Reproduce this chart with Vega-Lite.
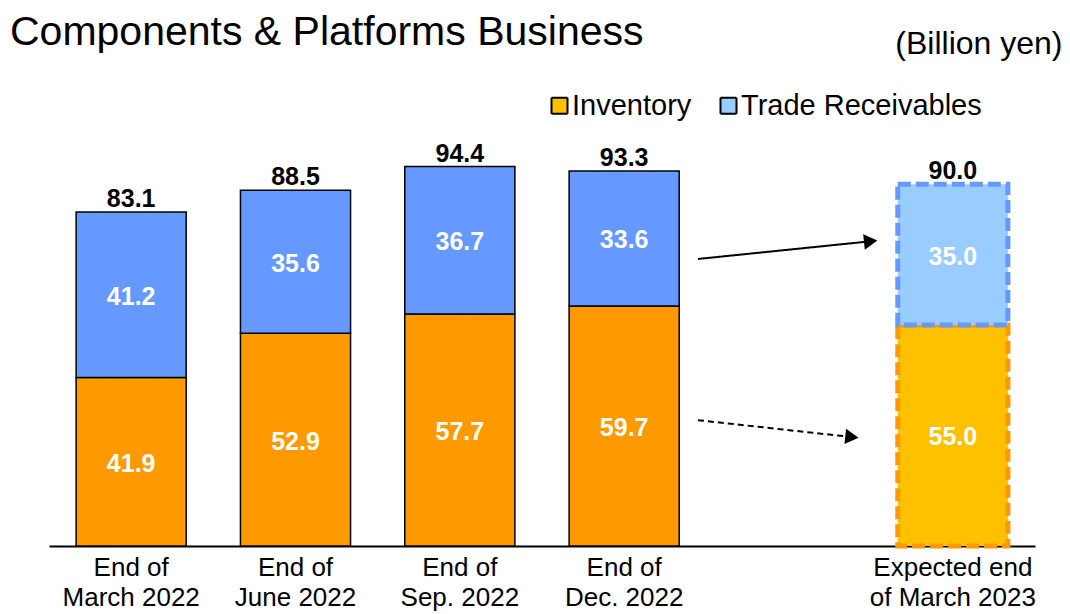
{
  "$schema": "https://vega.github.io/schema/vega-lite/v6.json",
  "width": 986,
  "height": 402,
  "autosize": {"type": "none"},
  "padding": {"left": 49, "top": 144, "right": 35, "bottom": 68},
  "background": "white",
  "config": {"view": {"stroke": null}, "font": "Liberation Sans"},
  "title": {
    "text": "Components & Platforms Business",
    "anchor": "start",
    "frame": "group",
    "fontSize": 41,
    "fontWeight": "normal",
    "font": "Liberation Sans",
    "color": "black",
    "dx": -39,
    "dy": 27,
    "offset": 0
  },
  "datasets": {
    "stock": [
      {"period": "End of|March 2022", "series": "Inventory", "kind": "Actual", "value": 41.9},
      {"period": "End of|March 2022", "series": "Trade Receivables", "kind": "Actual", "value": 41.2},
      {"period": "End of|June 2022", "series": "Inventory", "kind": "Actual", "value": 52.9},
      {"period": "End of|June 2022", "series": "Trade Receivables", "kind": "Actual", "value": 35.6},
      {"period": "End of|Sep. 2022", "series": "Inventory", "kind": "Actual", "value": 57.7},
      {"period": "End of|Sep. 2022", "series": "Trade Receivables", "kind": "Actual", "value": 36.7},
      {"period": "End of|Dec. 2022", "series": "Inventory", "kind": "Actual", "value": 59.7},
      {"period": "End of|Dec. 2022", "series": "Trade Receivables", "kind": "Actual", "value": 33.6},
      {"period": "Expected end|of March 2023", "series": "Inventory", "kind": "Expected", "value": 55.0},
      {"period": "Expected end|of March 2023", "series": "Trade Receivables", "kind": "Expected", "value": 35.0}
    ],
    "totals": [
      {"period": "End of|March 2022", "total": 83.1},
      {"period": "End of|June 2022", "total": 88.5},
      {"period": "End of|Sep. 2022", "total": 94.4},
      {"period": "End of|Dec. 2022", "total": 93.3},
      {"period": "Expected end|of March 2023", "total": 90.0}
    ],
    "arrows": [
      {"style": "solid", "x": 3.949, "y": 71.4, "xEnd": 5.0, "yEnd": 75.8},
      {"style": "dashed", "x": 3.949, "y": 31.3, "xEnd": 4.886, "yEnd": 27.1}
    ]
  },
  "resolve": {"scale": {"x": "independent"}},
  "layer": [
    {
      "encoding": {
        "x": {
          "field": "period",
          "type": "nominal",
          "sort": null,
          "scale": {
            "domain": ["End of|March 2022", "End of|June 2022", "End of|Sep. 2022", "End of|Dec. 2022", " ", "Expected end|of March 2023"],
            "paddingInner": 0.33,
            "paddingOuter": 0.165
          },
          "axis": {
            "title": null,
            "labelExpr": "split(datum.label, '|')",
            "labelFontSize": 26,
            "labelFont": "Liberation Sans",
            "labelColor": "black",
            "labelAngle": 0,
            "labelBaseline": "top",
            "labelLineHeight": 30,
            "labelPadding": 8,
            "labelLimit": 300,
            "ticks": false,
            "domainColor": "black",
            "domainWidth": 2
          }
        }
      },
      "layer": [
        {
          "data": {"name": "stock"},
          "mark": {"type": "bar"},
          "encoding": {
            "y": {
              "field": "value",
              "type": "quantitative",
              "stack": "zero",
              "scale": {"domain": [0, 100]},
              "axis": {
                "orient": "right",
                "title": "(Billion yen)",
                "titleAngle": 0,
                "titleAlign": "right",
                "titleBaseline": "alphabetic",
                "titleX": 27,
                "titleY": -91,
                "titleFontSize": 32,
                "titleFontWeight": "normal",
                "titleFont": "Liberation Sans",
                "titleColor": "black",
                "labels": false,
                "ticks": false,
                "domain": false,
                "grid": false
              }
            },
            "order": {"field": "series"},
            "fill": {
              "condition": [
                {"test": "datum.kind === 'Actual' && datum.series === 'Inventory'", "value": "#FF9900"},
                {"test": "datum.kind === 'Actual' && datum.series === 'Trade Receivables'", "value": "#6699FF"}
              ],
              "field": "series",
              "type": "nominal",
              "scale": {"domain": ["Inventory", "Trade Receivables"], "range": ["#FFC000", "#99CCFF"]},
              "legend": {
                "title": null,
                "orient": "none",
                "legendX": 496,
                "legendY": -53,
                "direction": "horizontal",
                "symbolType": "square",
                "symbolSize": 256,
                "symbolStrokeColor": "black",
                "symbolStrokeWidth": 2,
                "labelFontSize": 29,
                "labelFont": "Liberation Sans",
                "labelColor": "black",
                "labelOffset": -2,
                "labelLimit": 400,
                "columnPadding": 22,
                "encode": {
                  "symbols": {
                    "update": {
                      "stroke": {"value": "black"},
                      "strokeWidth": {"value": 2},
                      "strokeDash": {"value": [1, 0]},
                      "opacity": {"value": 1}
                    }
                  }
                }
              }
            },
            "stroke": {
              "condition": [
                {"test": "datum.kind === 'Actual'", "value": "black"},
                {"test": "datum.series === 'Inventory'", "value": "#FF9900"}
              ],
              "value": "#6699FF"
            },
            "strokeDash": {
              "condition": {"test": "datum.kind === 'Actual'", "value": [1, 0]},
              "value": [13, 5]
            },
            "strokeWidth": {
              "condition": {"test": "datum.kind === 'Actual'", "value": 1.5},
              "value": 5
            }
          }
        },
        {
          "data": {"name": "stock"},
          "mark": {"type": "text", "color": "white", "fontWeight": "bold", "fontSize": 25, "font": "Liberation Sans", "baseline": "middle", "dy": 2},
          "encoding": {
            "y": {"field": "value", "type": "quantitative", "stack": "zero", "bandPosition": 0.5},
            "detail": {"field": "series"},
            "order": {"field": "series"},
            "text": {"field": "value", "type": "quantitative", "format": ".1f"}
          }
        },
        {
          "data": {"name": "totals"},
          "mark": {"type": "text", "color": "black", "fontWeight": "bold", "fontSize": 25, "font": "Liberation Sans", "baseline": "alphabetic", "dy": -5},
          "encoding": {
            "y": {"field": "total", "type": "quantitative"},
            "text": {"field": "total", "type": "quantitative", "format": ".1f"}
          }
        }
      ]
    },
    {
      "data": {"name": "arrows"},
      "layer": [
        {
          "mark": {"type": "rule", "color": "black", "strokeWidth": 2},
          "encoding": {
            "x": {"field": "x", "type": "quantitative", "scale": {"domain": [0, 6]}, "axis": null},
            "x2": {"field": "xEnd"},
            "y": {"field": "y", "type": "quantitative"},
            "y2": {"field": "yEnd"},
            "strokeDash": {
              "condition": {"test": "datum.style === 'dashed'", "value": [6, 4]},
              "value": [1, 0]
            }
          }
        },
        {
          "mark": {"type": "point", "shape": "triangle-right", "filled": true, "color": "black", "opacity": 1, "size": 240},
          "encoding": {
            "x": {"field": "xEnd", "type": "quantitative", "scale": {"domain": [0, 6]}, "axis": null},
            "y": {"field": "yEnd", "type": "quantitative"},
            "angle": {
              "condition": {"test": "datum.style === 'dashed'", "value": 6},
              "value": -6
            }
          }
        }
      ]
    }
  ]
}
